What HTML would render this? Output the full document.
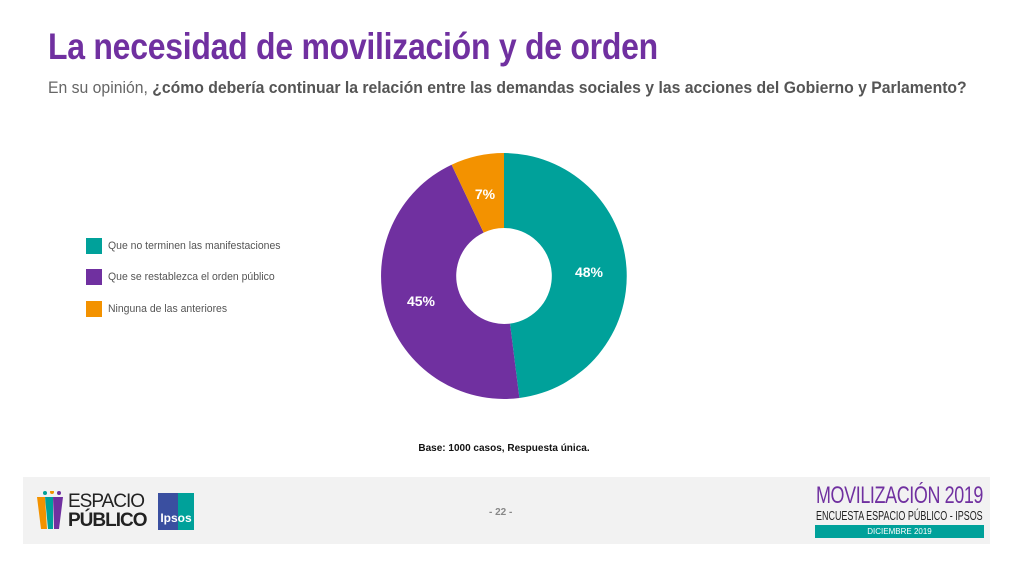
<!DOCTYPE html>
<html><head><meta charset="utf-8"><style>
body{margin:0;width:1016px;height:571px;background:#fff;position:relative;overflow:hidden;font-family:"Liberation Sans",Arial,sans-serif}
.t{position:absolute;left:48px;top:26px;font-size:37px;font-weight:bold;color:#7030a0;letter-spacing:-0.3px;transform:scaleX(0.864);transform-origin:left;white-space:nowrap}
.s{position:absolute;left:48px;top:79px;font-size:16.5px;color:#666;transform:scaleX(0.955);transform-origin:left;white-space:nowrap}
.s b{color:#555}
.leg{position:absolute;left:86px;font-size:11px;color:#555}
.leg i{position:absolute;left:0;top:0;width:16px;height:16px}
.leg span{position:absolute;left:22px;top:2px;white-space:nowrap;transform:scaleX(0.95);transform-origin:left}
.base{position:absolute;left:0;width:1008px;text-align:center;top:443px;font-size:10px;font-weight:bold;color:#111}
.foot{position:absolute;left:23px;top:477px;width:967px;height:67px;background:#f2f2f2}
</style></head><body>
<div class="t">La necesidad de movilización y de orden</div>
<div class="s">En su opinión, <b>¿cómo debería continuar la relación entre las demandas sociales y las acciones del Gobierno y Parlamento?</b></div>
<div class="leg" style="top:238px"><i style="background:#00a19a"></i><span>Que no terminen las manifestaciones</span></div>
<div class="leg" style="top:269px"><i style="background:#7030a0"></i><span>Que se restablezca el orden público</span></div>
<div class="leg" style="top:301px"><i style="background:#f39200"></i><span>Ninguna de las anteriores</span></div>
<svg style="position:absolute;left:0;top:0" width="1016" height="571">
<path d="M504 153 A123 123 0 0 1 519.4 398 L510 323.6 A48 48 0 0 0 504 228 Z" fill="#00a19a"/>
<path d="M519.4 398 A123 123 0 0 1 451.6 164.7 L483.6 232.6 A48 48 0 0 0 510 323.6 Z" fill="#7030a0"/>
<path d="M451.6 164.7 A123 123 0 0 1 504 153 L504 228 A48 48 0 0 0 483.6 232.6 Z" fill="#f39200"/>
<g font-family="Liberation Sans,Arial,sans-serif" font-weight="bold" font-size="14" fill="#fff" text-anchor="middle">
<text x="589" y="277">48%</text><text x="421" y="306">45%</text><text x="485" y="199">7%</text></g>
</svg>
<div class="base">Base: 1000 casos, Respuesta única.</div>
<div class="foot">
<svg style="position:absolute;left:14px;top:14px" width="30" height="40"><polygon points="0,6 8,6 10,38 4,38" fill="#f39200"/><polygon points="8,6 16,6 16,38 11,38" fill="#00a19a"/><polygon points="16,6 26,6 22,38 17,38" fill="#7030a0"/><circle cx="8" cy="2" r="2" fill="#00a19a"/><circle cx="15" cy="1" r="2" fill="#f39200"/><circle cx="22" cy="2" r="2" fill="#7030a0"/></svg>
<div style="position:absolute;left:45px;top:15px;font-size:19px;line-height:19px;color:#222;letter-spacing:-1px">ESPACIO<br><b>PÚBLICO</b></div>
<div style="position:absolute;left:135px;top:16px;width:36px;height:37px;background:linear-gradient(90deg,#3a4fa0 55%,#00a19a 55%);color:#fff;font-size:12px;font-weight:bold;text-align:center;line-height:50px">Ipsos</div>
<div style="position:absolute;left:466px;top:30px;font-size:10px;color:#888;font-weight:bold">- 22 -</div>
<div style="position:absolute;left:793px;top:5px;font-size:24px;color:#7030a0;transform:scaleX(0.747);transform-origin:left;white-space:nowrap;letter-spacing:-0.5px">MOVILIZACIÓN 2019</div>
<div style="position:absolute;left:793px;top:31px;font-size:13px;color:#222;transform:scaleX(0.69);transform-origin:left;white-space:nowrap">ENCUESTA ESPACIO PÚBLICO - IPSOS</div>
<div style="position:absolute;left:792px;top:48px;width:169px;height:13px;background:#00a19a;color:#fff;font-size:8px;text-align:center;line-height:13px">DICIEMBRE 2019</div>
</div>
</body></html>
